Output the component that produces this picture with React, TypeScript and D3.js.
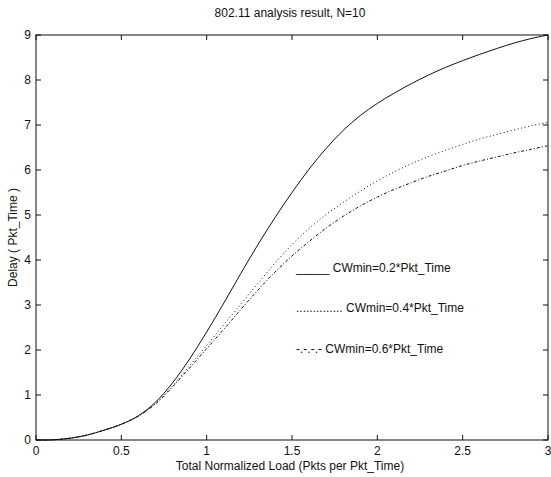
import React from "react";
import * as d3 from "d3";

const loads = [0, 0.1, 0.2, 0.3, 0.4, 0.5, 0.6, 0.7, 0.8, 0.9, 1.0, 1.1, 1.2, 1.3, 1.4, 1.5, 1.6, 1.7, 1.8, 1.9, 2.0, 2.1, 2.2, 2.3, 2.4, 2.5, 2.6, 2.7, 2.8, 2.9, 3.0];
const delayCw02 = [0, 0.005, 0.04, 0.11, 0.22, 0.35, 0.54, 0.84, 1.27, 1.8, 2.4, 3.04, 3.7, 4.34, 4.94, 5.5, 6.02, 6.48, 6.88, 7.21, 7.48, 7.71, 7.92, 8.11, 8.28, 8.43, 8.57, 8.7, 8.82, 8.92, 9.0];
const delayCw04 = [0, 0.005, 0.04, 0.11, 0.22, 0.35, 0.53, 0.81, 1.2, 1.65, 2.1, 2.56, 3.02, 3.48, 3.93, 4.34, 4.7, 5.01, 5.28, 5.53, 5.76, 5.96, 6.14, 6.3, 6.44, 6.57, 6.69, 6.79, 6.89, 6.98, 7.06];
const delayCw06 = [0, 0.005, 0.04, 0.11, 0.22, 0.35, 0.53, 0.8, 1.18, 1.6, 2.03, 2.46, 2.9, 3.33, 3.73, 4.09, 4.41, 4.71, 4.97, 5.2, 5.4, 5.57, 5.72, 5.86, 5.98, 6.1, 6.2, 6.29, 6.38, 6.46, 6.54];
const xTicks = [0, 0.5, 1, 1.5, 2, 2.5, 3];
const yTicks = [0, 1, 2, 3, 4, 5, 6, 7, 8, 9];
const seriesNames = ["CWmin=0.2*Pkt_Time", "CWmin=0.4*Pkt_Time", "CWmin=0.6*Pkt_Time"];
const legendMarks = ["_____", "..............", "-.-.-.-"];

const FONT = "'Liberation Sans', Arial, Helvetica, sans-serif";

export default function App() {
  const W = 551, H = 477;
  const left = 36, right = 548, top = 35, bottom = 440;
  const x = d3.scaleLinear().domain([0, 3]).range([left, right]);
  const y = d3.scaleLinear().domain([0, 9]).range([bottom, top]);
  const line = d3.line<[number, number]>().x(d => x(d[0])).y(d => y(d[1])).curve(d3.curveCatmullRom.alpha(0.5));
  const series = [delayCw02, delayCw04, delayCw06];
  const dashes = [undefined, "1,2.6", "3,2,1,2"];
  const legendY = [268, 308, 349];
  const tl = 5;

  return (
    <svg width={W} height={H} style={{ position: "absolute", left: 0, top: 0, background: "#fff" }} fontFamily={FONT}>
      <rect x={0} y={0} width={W} height={H} fill="#fff" />
      <text x={290} y={17} fontSize={12} textAnchor="middle" fill="#111">802.11 analysis result, N=10</text>
      <rect x={left} y={top} width={right - left} height={bottom - top} fill="none" stroke="#111" strokeWidth={1} />
      {xTicks.map(t => (
        <g key={"x" + t}>
          <line x1={x(t)} x2={x(t)} y1={bottom} y2={bottom - tl} stroke="#111" />
          <line x1={x(t)} x2={x(t)} y1={top} y2={top + tl} stroke="#111" />
          <text x={x(t)} y={bottom + 15} fontSize={12} textAnchor="middle" fill="#111">{t}</text>
        </g>
      ))}
      {yTicks.map(t => (
        <g key={"y" + t}>
          <line x1={left} x2={left + tl} y1={y(t)} y2={y(t)} stroke="#111" />
          <line x1={right} x2={right - tl} y1={y(t)} y2={y(t)} stroke="#111" />
          <text x={left - 5} y={y(t) + 4} fontSize={12} textAnchor="end" fill="#111">{t}</text>
        </g>
      ))}
      <text x={290} y={470} fontSize={12} textAnchor="middle" fill="#111">Total Normalized Load (Pkts per Pkt_Time)</text>
      <text transform={`translate(17,${(top + bottom) / 2}) rotate(-90)`} fontSize={12} textAnchor="middle" fill="#111">Delay ( Pkt_Time )</text>
      {series.map((s, i) => (
        <path key={i} d={line(loads.map((l, j) => [l, s[j]] as [number, number])) || ""} fill="none" stroke="#111" strokeWidth={1} strokeDasharray={dashes[i]} />
      ))}
      {seriesNames.map((n, i) => (
        <text key={n} x={296} y={legendY[i] + 4} fontSize={12} fill="#111">
          <tspan>{legendMarks[i]}</tspan> {n}
        </text>
      ))}
    </svg>
  );
}
